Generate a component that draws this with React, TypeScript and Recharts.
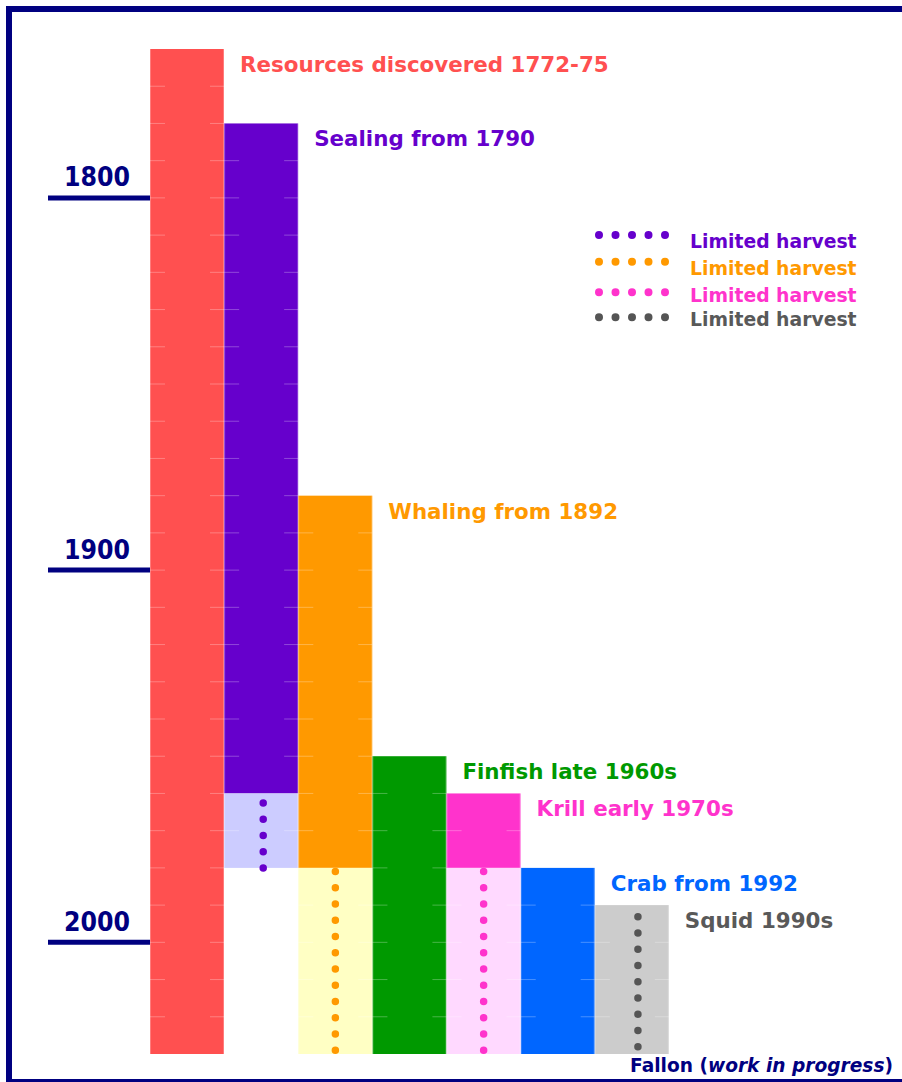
import React from 'react';
import { BarChart, Bar, XAxis, YAxis, Cell, LabelList, ReferenceLine } from 'recharts';

// ---- data ----
const categories = ['Resources', 'Sealing', 'Whaling', 'Finfish', 'Krill', 'Crab', 'Squid'];
const labels = [
  'Resources discovered 1772-75',
  'Sealing from 1790',
  'Whaling from 1892',
  'Finfish late 1960s',
  'Krill early 1970s',
  'Crab from 1992',
  'Squid 1990s',
];
const mainStart = [1760, 1780, 1880, 1950, 1960, 1980, 1990];
const mainEnd = [2030, 1960, 1980, 2030, 1980, 2030, 2030];
const limitedStart: (number | null)[] = [null, 1960, 1980, null, 1980, null, null];
const limitedEnd: (number | null)[] = [null, 1980, 2030, null, 2030, null, null];
// dotted "limited harvest" markers (from, to)
const dotFrom: (number | null)[] = [null, 1980, 1981, null, 1981, null, 1993.1];
const dotTo: (number | null)[] = [null, 1961.5, 2030, null, 2030, null, 2030];
const yearTicks = [1800, 1900, 2000];
const legendLabels = ['Limited harvest', 'Limited harvest', 'Limited harvest', 'Limited harvest'];

// ---- styles ----
const NAVY = '#000080';
const FONT = '"DejaVu Sans", Verdana, sans-serif';
const mainColors = ['#FF5050', '#6600CC', '#FF9900', '#009900', '#FF33CC', '#0066FF', '#CCCCCC'];
const limitedColors = ['none', '#CCCCFF', '#FFFFC4', 'none', '#FFD9FF', 'none', 'none'];
const labelColors = ['#FF5050', '#6600CC', '#FF9900', '#009900', '#FF33CC', '#0066FF', '#595959'];
const dotColors = ['none', '#6600CC', '#FF9900', 'none', '#FF33CC', 'none', '#555555'];
const dotShift = [0, 2, 0, 0, 0, 0, 6];
const legendColors = ['#6600CC', '#FF9900', '#FF33CC', '#595959'];
const legendDotColors = ['#6600CC', '#FF9900', '#FF33CC', '#555555'];

const data = categories.map((c, i) => ({
  name: c,
  label: labels[i],
  mainStart: mainStart[i],
  mainEnd: mainEnd[i],
  limitedStart: limitedStart[i],
  limitedEnd: limitedEnd[i],
  main: [mainStart[i], mainEnd[i]],
  limited: limitedStart[i] != null ? [limitedStart[i], limitedEnd[i]] : null,
}));

const makeShape = (kind: 'main' | 'limited') => (props: any) => {
  const { x, y, width, height, fill, payload } = props;
  if (!payload || payload[kind + 'Start'] == null || !width) return null;
  const top = Math.min(y, y + height);
  const h = Math.abs(height);
  const s = payload[kind + 'Start'];
  const e = payload[kind + 'End'];
  const ppy = h / (e - s);
  const marks: React.ReactNode[] = [];
  for (let yr = Math.ceil(s / 10) * 10; yr < e; yr += 10) {
    if (yr === s) continue;
    const yy = top + (yr - s) * ppy;
    marks.push(
      <g key={yr}>
        <line x1={x} x2={x + 15} y1={yy} y2={yy} stroke="#ffffff" strokeOpacity={0.28} strokeWidth={1} />
        <line x1={x + width - 14} x2={x + width} y1={yy} y2={yy} stroke="#ffffff" strokeOpacity={0.28} strokeWidth={1} />
      </g>
    );
  }
  return (
    <g>
      <rect x={x} y={top} width={width} height={h} fill={fill} />
      <line x1={x + 0.5} x2={x + 0.5} y1={top} y2={top + h} stroke="#ffffff" strokeOpacity={0.25} />
      <line x1={x + width - 0.5} x2={x + width - 0.5} y1={top} y2={top + h} stroke="#ffffff" strokeOpacity={0.25} />
      {marks}
    </g>
  );
};

const BarLabel = (props: any) => {
  const { x, y, width, height, value } = props;
  const i = labels.indexOf(value);
  if (i < 0) return null;
  const top = Math.min(y, y + height);
  return (
    <text x={x + width + 16} y={top + 23} fill={labelColors[i]} fontFamily={FONT} fontWeight="bold" fontSize={21.4}>
      {value}
    </text>
  );
};

const YearTick = (props: any) => {
  const { y, payload } = props;
  return (
    <g>
      <line x1={48} x2={150} y1={y} y2={y} stroke={NAVY} strokeWidth={5} />
      <text
        x={97}
        y={y - 11.5}
        textAnchor="middle"
        fill={NAVY}
        fontFamily={FONT}
        fontWeight="bold"
        fontSize={26}
        textLength={66}
        lengthAdjust="spacingAndGlyphs"
      >
        {payload.value}
      </text>
    </g>
  );
};

const DotLine = (props: any) => {
  const { x1, x2, y1, y2, stroke, strokeWidth, strokeDasharray, shift } = props;
  return (
    <line
      x1={x1 + shift}
      x2={x2 + shift}
      y1={y1}
      y2={y2}
      stroke={stroke}
      strokeWidth={strokeWidth}
      strokeLinecap="round"
      strokeDasharray={strokeDasharray}
    />
  );
};

const LegendBox = () => {
  const dotYs = [235, 261.7, 292.3, 317.3];
  const textYs = [248, 275, 302, 326];
  return (
    <svg
      width={300}
      height={120}
      style={{ position: 'absolute', left: 590, top: 220, display: 'block' }}
    >
      {legendLabels.map((t, i) => (
        <g key={i}>
          <line
            x1={9}
            x2={75.5}
            y1={dotYs[i] - 220}
            y2={dotYs[i] - 220}
            stroke={legendDotColors[i]}
            strokeWidth={8}
            strokeLinecap="round"
            strokeDasharray="0 16.5"
          />
          <text x={100} y={textYs[i] - 220} fill={legendColors[i]} fontFamily={FONT} fontWeight="bold" fontSize={18.8}>
            {t}
          </text>
        </g>
      ))}
    </svg>
  );
};

export default function App() {
  return (
    <div style={{ position: 'absolute', left: 0, top: 0, width: 902, height: 1082, background: '#ffffff', overflow: 'hidden' }}>
      <BarChart
        width={902}
        height={1082}
        data={data}
        margin={{ top: 49, right: 233, bottom: 28, left: 0 }}
        barCategoryGap={0}
        barGap={0}
      >
        <XAxis xAxisId="m" dataKey="name" hide />
        <XAxis xAxisId="l" dataKey="name" hide />
        <YAxis
          type="number"
          domain={[1760, 2030]}
          reversed
          ticks={yearTicks}
          interval={0}
          width={150}
          axisLine={false}
          tickLine={false}
          tick={<YearTick />}
          allowDataOverflow
        />
        <Bar xAxisId="m" dataKey="main" isAnimationActive={false} shape={makeShape('main')}>
          {data.map((d, i) => (
            <Cell key={d.name} fill={mainColors[i]} />
          ))}
          <LabelList dataKey="label" content={<BarLabel />} />
        </Bar>
        <Bar xAxisId="l" dataKey="limited" isAnimationActive={false} shape={makeShape('limited')}>
          {data.map((d, i) => (
            <Cell key={d.name} fill={limitedColors[i]} />
          ))}
        </Bar>
        {categories.map((c, i) =>
          dotFrom[i] != null ? (
            <ReferenceLine
              key={c}
              xAxisId="m"
              segment={[
                { x: c, y: dotFrom[i] as number },
                { x: c, y: dotTo[i] as number },
              ]}
              stroke={dotColors[i]}
              strokeWidth={7.5}
              strokeDasharray="0 16.25"
              ifOverflow="visible"
              shape={(p: any) => <DotLine {...p} shift={dotShift[i]} />}
            />
          ) : null
        )}
      </BarChart>
      <LegendBox />
      <div
        style={{
          position: 'absolute',
          left: 6,
          top: 6,
          width: 896,
          height: 1076,
          boxSizing: 'border-box',
          borderTop: `6px solid ${NAVY}`,
          borderLeft: `6px solid ${NAVY}`,
          borderBottom: `3px solid ${NAVY}`,
          pointerEvents: 'none',
        }}
      />
      <div
        style={{
          position: 'absolute',
          right: 9,
          top: 1056,
          fontFamily: FONT,
          fontWeight: 'bold',
          fontSize: 18.6,
          color: NAVY,
          whiteSpace: 'nowrap',
          lineHeight: '20px',
        }}
      >
        Fallon (<i>work in progress</i>)
      </div>
    </div>
  );
}
